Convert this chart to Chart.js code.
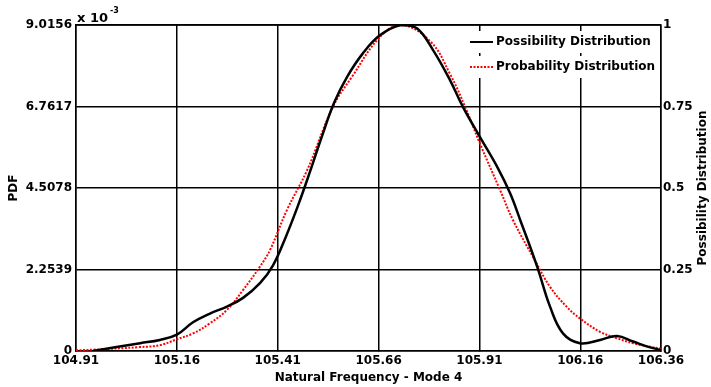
<!DOCTYPE html>
<html>
<head>
<meta charset="utf-8">
<script src="https://cdn.jsdelivr.net/npm/chart.js@4"></script>
<style>
  html, body { margin: 0; padding: 0; background: #fff; }
  #wrap { width: 711px; height: 387px; }
</style>
</head>
<body>
<div id="wrap"><canvas id="chart" width="711" height="387"></canvas></div>
<script>
// x ticks (natural frequency)
const freqTicks = [104.91, 105.16, 105.41, 105.66, 105.91, 106.16, 106.36];
const pdfTicks = [0, 2.2539, 4.5078, 6.7617, 9.0156]; // x 10^-3
const possTicks = [0, 0.25, 0.5, 0.75, 1];

// possibility distribution (black)
const possFreq = [104.952, 105.069, 105.118, 105.160, 105.200, 105.242, 105.284, 105.324, 105.366, 105.398,
  105.430, 105.460, 105.490, 105.520, 105.550, 105.582, 105.621, 105.664, 105.716,
  105.755, 105.795, 105.837, 105.869, 105.911, 105.954, 105.986, 106.011, 106.053, 106.085,
  106.117, 106.159, 106.209, 106.251, 106.291, 106.333, 106.360];
const possValues = [0, 0.024, 0.034, 0.05, 0.088, 0.115, 0.136, 0.163, 0.208, 0.262,
  0.35, 0.445, 0.55, 0.66, 0.762, 0.841, 0.913, 0.969, 1.0,
  0.99, 0.923, 0.831, 0.749, 0.657, 0.565, 0.484, 0.402, 0.259, 0.136,
  0.054, 0.024, 0.034, 0.046, 0.029, 0.011, 0.003];

// probability distribution (red), PDF in units of 10^-3
const probFreq = [104.91, 104.952, 105.069, 105.118, 105.160, 105.200, 105.242, 105.284, 105.324, 105.366,
  105.391, 105.433, 105.483, 105.547, 105.594, 105.664, 105.716, 105.788, 105.837, 105.874,
  105.911, 105.961, 105.993, 106.047, 106.085, 106.126, 106.159, 106.209, 106.251, 106.291,
  106.333, 106.36];
const pdfValues = [0.018, 0.036, 0.108, 0.162, 0.325, 0.487, 0.766, 1.136, 1.686, 2.335,
  2.795, 3.904, 5.004, 6.753, 7.582, 8.691, 9.0156, 8.565, 7.663, 6.762,
  5.743, 4.454, 3.624, 2.515, 1.776, 1.226, 0.902, 0.532, 0.352, 0.216,
  0.117, 0.072];

const FONT = "DejaVu Sans";

const extras = {
  id: "extras",
  afterDraw(chart) {
    const ctx = chart.ctx;
    const a = chart.chartArea;
    ctx.save();
    // top border of the box
    ctx.strokeStyle = "#000";
    ctx.lineWidth = 1.5;
    ctx.beginPath();
    ctx.moveTo(a.left, a.top);
    ctx.lineTo(a.right, a.top);
    ctx.stroke();

    ctx.fillStyle = "#000";
    ctx.font = "bold 12px " + FONT;
    // x title
    ctx.textAlign = "center";
    ctx.textBaseline = "middle";
    ctx.fillText("Natural Frequency - Mode 4", (a.left + a.right) / 2, 378);
    // left title
    ctx.save();
    ctx.translate(14, (a.top + a.bottom) / 2);
    ctx.rotate(-Math.PI / 2);
    ctx.fillText("PDF", 0, 0);
    ctx.restore();
    // right title
    ctx.save();
    ctx.translate(703, (a.top + a.bottom) / 2);
    ctx.rotate(-Math.PI / 2);
    ctx.fillText("Possibility Distribution", 0, 0);
    ctx.restore();

    // exponent
    ctx.textAlign = "left";
    ctx.textBaseline = "alphabetic";
    ctx.font = "bold 13px " + FONT;
    ctx.fillText("x 10", a.left + 1, 22);
    ctx.font = "bold 8px " + FONT;
    ctx.fillText("-3", a.left + 34, 13);

    // legend
    const entries = [
      { label: "Possibility Distribution", color: "#000", dash: [], y: 42 },
      { label: "Probability Distribution", color: "#ff0000", dash: [2, 1.5], y: 67 }
    ];
    ctx.font = "bold 12px " + FONT;
    entries.forEach(e => {
      ctx.fillStyle = "#fff";
      ctx.fillRect(466, e.y - 11, 193, 22);
      ctx.strokeStyle = e.color;
      ctx.lineWidth = 2;
      ctx.setLineDash(e.dash);
      ctx.beginPath();
      ctx.moveTo(470, e.y);
      ctx.lineTo(493, e.y);
      ctx.stroke();
      ctx.setLineDash([]);
      ctx.fillStyle = "#000";
      ctx.textBaseline = "middle";
      ctx.fillText(e.label, 496, e.y);
    });
    ctx.restore();
  }
};

new Chart(document.getElementById("chart"), {
  type: "line",
  data: {
    datasets: [
      {
        label: "Possibility Distribution",
        data: possFreq.map((f, i) => ({ x: f, y: possValues[i] })),
        yAxisID: "y2",
        borderColor: "#000",
        borderWidth: 2.5,
        pointRadius: 0,
        tension: 0.4,
        fill: false
      },
      {
        label: "Probability Distribution",
        data: probFreq.map((f, i) => ({ x: f, y: pdfValues[i] })),
        yAxisID: "y",
        borderColor: "#ff0000",
        borderWidth: 2,
        borderDash: [2, 1.5],
        pointRadius: 0,
        tension: 0.4,
        fill: false
      }
    ]
  },
  options: {
    responsive: false,
    animation: false,
    layout: { padding: { top: 25, left: 0, right: 0, bottom: 0 } },
    plugins: { legend: { display: false }, tooltip: { enabled: false } },
    scales: {
      x: {
        type: "linear",
        min: 104.91,
        max: 106.36,
        afterBuildTicks: s => { s.ticks = freqTicks.map(v => ({ value: v })); },
        afterFit: s => { s.height = 36; },
        ticks: {
          color: "#000",
          font: { family: FONT, size: 12, weight: "bold" },
          padding: 3,
          maxRotation: 0,
          autoSkip: false,
          callback: v => v.toFixed(2)
        },
        grid: { color: "#000", lineWidth: 1.5, tickLength: 0 },
        border: { color: "#000", width: 1.5 }
      },
      y: {
        position: "left",
        min: 0,
        max: 9.0156,
        afterBuildTicks: s => { s.ticks = pdfTicks.map(v => ({ value: v })); },
        afterFit: s => { s.width = 76; },
        ticks: {
          color: "#000",
          font: { family: FONT, size: 12, weight: "bold" },
          padding: 4,
          autoSkip: false,
          callback: v => (v === 0 ? "0" : v.toFixed(4))
        },
        grid: { color: "#000", lineWidth: 1.5, tickLength: 0 },
        border: { color: "#000", width: 1.5 }
      },
      y2: {
        position: "right",
        min: 0,
        max: 1,
        afterBuildTicks: s => { s.ticks = possTicks.map(v => ({ value: v })); },
        afterFit: s => { s.width = 50; },
        ticks: {
          color: "#000",
          font: { family: FONT, size: 12, weight: "bold" },
          padding: 2,
          autoSkip: false,
          callback: v => String(v)
        },
        grid: { display: false, tickLength: 0 },
        border: { color: "#000", width: 1.5 }
      }
    }
  },
  plugins: [extras]
});
</script>
</body>
</html>
